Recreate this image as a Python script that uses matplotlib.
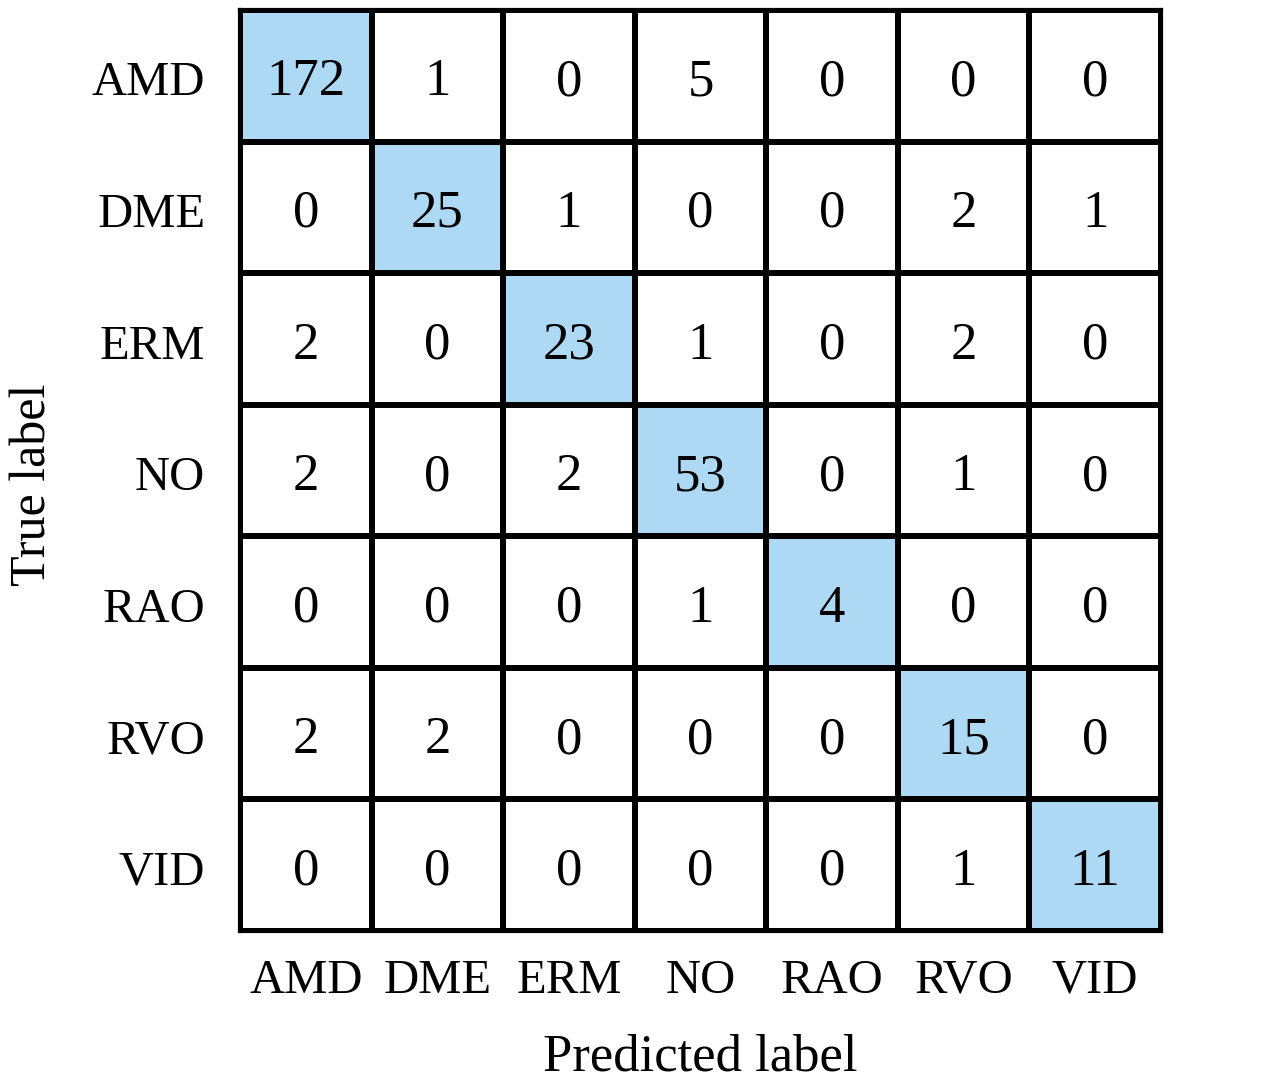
import matplotlib.pyplot as plt
import numpy as np
from matplotlib.colors import ListedColormap

plt.rcParams['font.family'] = ['Liberation Serif', 'DejaVu Serif']

classes = ['AMD', 'DME', 'ERM', 'NO', 'RAO', 'RVO', 'VID']
cm = np.array([
    [172, 1, 0, 5, 0, 0, 0],
    [0, 25, 1, 0, 0, 2, 1],
    [2, 0, 23, 1, 0, 2, 0],
    [2, 0, 2, 53, 0, 1, 0],
    [0, 0, 0, 1, 4, 0, 0],
    [2, 2, 0, 0, 0, 15, 0],
    [0, 0, 0, 0, 0, 1, 11],
])

n = len(classes)
diag = np.eye(n)

fig = plt.figure(figsize=(12.72, 10.86), dpi=100)
ax = fig.add_axes([0.1887, 0.1427, 0.724, 0.8481])

cmap = ListedColormap(['white', '#add9f4'])
ax.pcolormesh(np.arange(n + 1), np.arange(n + 1), diag, cmap=cmap,
              edgecolors='black', linewidth=3)
ax.set_xlim(0, n)
ax.set_ylim(n, 0)

# cell counts
for i in range(n):
    for j in range(n):
        ax.text(j + 0.5, i + 0.55, str(cm[i, j]), ha='center', va='center',
                fontsize=38, color='black')

ax.set_xticks(np.arange(n) + 0.5)
ax.set_yticks(np.arange(n) + 0.52)
ax.set_xticklabels(classes, fontsize=35)
ax.set_yticklabels(classes, fontsize=35)
ax.tick_params(axis='y', length=0, pad=25)
ax.tick_params(axis='x', length=0, pad=20)
for s in ax.spines.values():
    s.set_linewidth(3)

ax.set_xlabel('Predicted label', fontsize=38, labelpad=22)
ax.set_ylabel('True label', fontsize=36)
ax.yaxis.set_label_coords(-0.199, 0.484)

fig.savefig('out.png', dpi=100)
